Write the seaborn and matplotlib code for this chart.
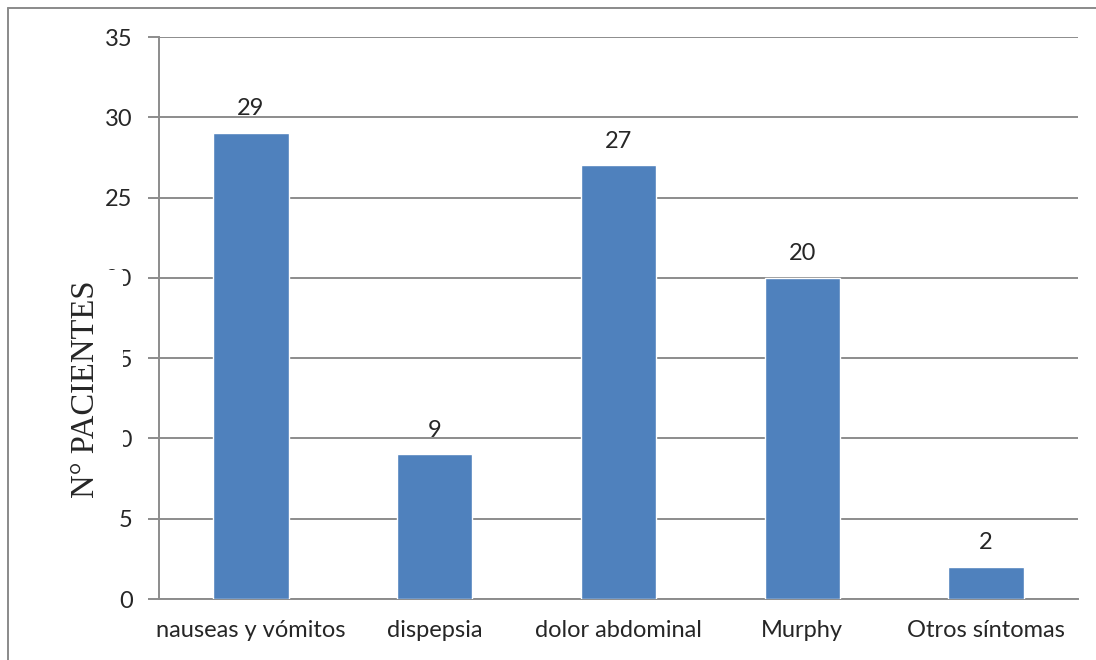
import matplotlib
matplotlib.use("Agg")
import matplotlib.pyplot as plt
from matplotlib.patches import Rectangle
from matplotlib.lines import Line2D
import seaborn as sns
import numpy as np

categories = ["nauseas y vómitos", "dispepsia", "dolor abdominal", "Murphy", "Otros síntomas"]
values = [29, 9, 27, 20, 2]
y_ticks = [0, 5, 10, 15, 20, 25, 30, 35]
y_label = "N° PACIENTES"

W, H = 1096, 660
BAR_COLOR = "#4F81BD"
GRID = "#8C8C8C"
TICK_FONT = "Lato"
FS = 17

sns.set_style("white")
fig = plt.figure(figsize=(W / 100, H / 100), dpi=100)
fig.patch.set_facecolor("white")

# plot area in pixel terms
L, R, T, B = 159, 1078, 37, 599
ax = fig.add_axes([L / W, (H - B) / H, (R - L) / W, (B - T) / H])

sns.barplot(x=categories, y=values, color=BAR_COLOR, width=0.41,
            saturation=1, ax=ax, zorder=3)

ax.set_xlim(-0.5, len(categories) - 0.5)
ax.set_ylim(0, 35)
ax.set_yticks(y_ticks)
ax.set_yticklabels([str(t) for t in y_ticks], fontsize=FS, family=TICK_FONT)
ax.yaxis.grid(True, color=GRID, linewidth=1.4, zorder=0)
ax.set_axisbelow(True)

# category labels centred, tick marks on category boundaries
ax.set_xticks(range(len(categories)))
ax.set_xticklabels(categories, fontsize=FS, family=TICK_FONT)
ax.tick_params(axis="x", which="major", length=0, pad=15)
ax.set_xticks(np.arange(-0.5, len(categories)), minor=True)
ax.tick_params(axis="x", which="minor", length=7, width=1.4, color=GRID, direction="out")
ax.tick_params(axis="y", length=8, width=1.4, color=GRID, direction="out", left=True, pad=11)

for side in ("top", "right"):
    ax.spines[side].set_visible(False)
for side in ("left", "bottom"):
    ax.spines[side].set_color(GRID)
    ax.spines[side].set_linewidth(1.4)
ax.set_xlabel("")
ax.set_ylabel("")

# value labels above bars
for i, v in enumerate(values):
    ax.annotate(str(v), xy=(i, v), xytext=(0, 10), textcoords="offset points",
                ha="center", va="bottom", fontsize=FS, family=TICK_FONT)

# axis title on a white box that sits over the tick labels
box = Rectangle((60 / W, (H - 505) / H), (123 - 60) / W, (505 - 270) / H,
                transform=fig.transFigure, facecolor="white", edgecolor="none", zorder=5)
fig.patches.append(box)
fig.text(86 / W, (H - 389) / H, y_label, rotation=90, ha="center", va="center",
         fontsize=23.5, family="Liberation Serif", zorder=6)

# outer chart frame
fig.lines.append(Line2D([8 / W, 8 / W], [0, (H - 8) / H], transform=fig.transFigure,
                        color="#8A8A8A", linewidth=1.4))
fig.lines.append(Line2D([8 / W, 1], [(H - 8) / H, (H - 8) / H], transform=fig.transFigure,
                        color="#8A8A8A", linewidth=1.4))

fig.savefig("out.png", dpi=100, facecolor="white")
